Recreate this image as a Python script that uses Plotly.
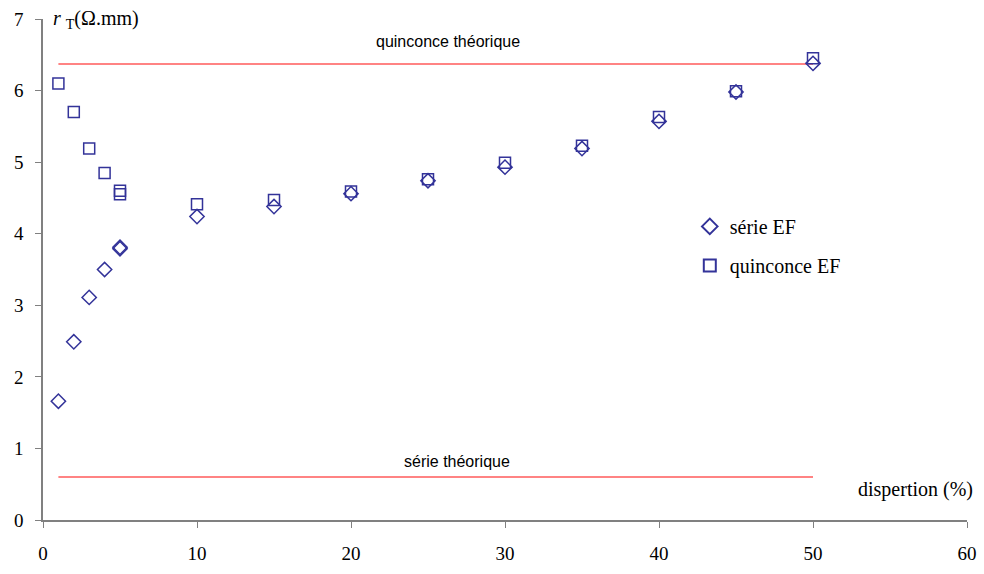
import plotly.graph_objects as go

dispersion = [1, 2, 3, 4, 5, 5, 10, 15, 20, 25, 30, 35, 40, 45, 50]
serie_ef = [1.66, 2.49, 3.11, 3.50, 3.79, 3.81, 4.24, 4.38, 4.56, 4.74, 4.93, 5.19, 5.57, 5.98, 6.38]
quinconce_ef = [6.10, 5.70, 5.19, 4.85, 4.55, 4.60, 4.41, 4.47, 4.59, 4.76, 4.99, 5.23, 5.63, 5.99, 6.45]
theo_x = [1, 50]
quinconce_theo = [6.37, 6.37]
serie_theo = [0.6, 0.6]

navy = "#333399"
red = "#FF5A5A"
serif = "Liberation Serif, Times New Roman, serif"
sans = "Liberation Sans Narrow, Liberation Sans, Arial, sans-serif"

fig = go.Figure()
fig.add_trace(go.Scatter(x=theo_x, y=quinconce_theo, mode="lines",
                         line=dict(color=red, width=1.5), showlegend=False, hoverinfo="skip"))
fig.add_trace(go.Scatter(x=theo_x, y=serie_theo, mode="lines",
                         line=dict(color=red, width=1.5), showlegend=False, hoverinfo="skip"))
fig.add_trace(go.Scatter(x=dispersion, y=serie_ef, mode="markers", name="série EF",
                         legendgroup="a",
                         marker=dict(symbol="diamond-open", size=11, color=navy,
                                     line=dict(width=1.5, color=navy))))
fig.add_trace(go.Scatter(x=dispersion, y=quinconce_ef, mode="markers", name="quinconce EF",
                         legendgroup="b",
                         marker=dict(symbol="square-open", size=11, color=navy,
                                     line=dict(width=1.5, color=navy))))

fig.update_layout(
    width=984, height=574,
    margin=dict(l=43, r=17, t=19, b=54),
    plot_bgcolor="white", paper_bgcolor="white",
    font=dict(family=serif, size=19, color="black"),
    showlegend=True,
    legend=dict(x=0.7, y=0.625, xanchor="left", yanchor="top",
                bgcolor="rgba(0,0,0,0)", font=dict(family=serif, size=20),
                itemsizing="constant", tracegroupgap=10),
    xaxis=dict(range=[0, 60], tickvals=[0, 10, 20, 30, 40, 50, 60],
               showgrid=False, zeroline=False, showline=True,
               linecolor="#808080", linewidth=1.5,
               ticks="outside", ticklen=6, tickcolor="#808080",
               ticklabelstandoff=9, automargin=False, fixedrange=True),
    yaxis=dict(range=[0, 7], tickvals=[0, 1, 2, 3, 4, 5, 6, 7],
               showgrid=False, zeroline=False, showline=True,
               linecolor="#808080", linewidth=1.5,
               ticks="outside", ticklen=6, tickcolor="#808080",
               ticklabelstandoff=8, automargin=False, fixedrange=True),
    annotations=[
        dict(text="quinconce théorique", x=26.3, y=6.68, xref="x", yref="y",
             showarrow=False, font=dict(family=sans, size=16)),
        dict(text="série théorique", x=26.9, y=0.82, xref="x", yref="y",
             showarrow=False, font=dict(family=sans, size=16)),
        dict(text="dispertion (%)", x=1.009, y=0.06, xref="paper", yref="paper",
             xanchor="right", yanchor="middle", showarrow=False,
             font=dict(family=serif, size=20)),
        dict(text="<i>r</i> <sub>T</sub>(Ω.mm)", x=0.009, y=1.0, xref="paper", yref="paper",
             xanchor="left", yanchor="middle", showarrow=False,
             font=dict(family=serif, size=20)),
    ],
)

fig.write_html("out.html", config={"displayModeBar": False},
               post_script="document.body.style.margin='0px';")
